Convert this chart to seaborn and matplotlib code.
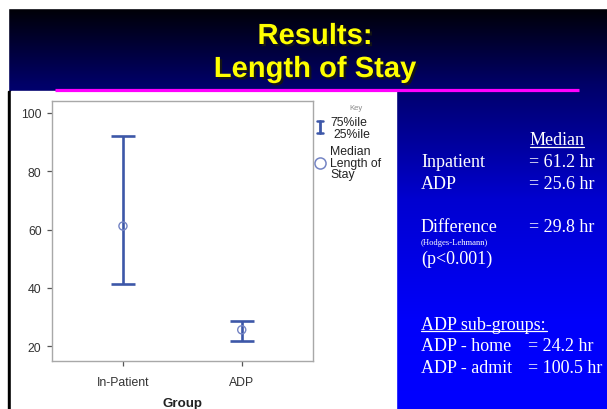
import numpy as np
import pandas as pd
import matplotlib
matplotlib.use("Agg")
import matplotlib.pyplot as plt
import matplotlib.patheffects as pe
import seaborn as sns
from matplotlib.patches import Rectangle

# ---- data ----
groups = ["In-Patient", "ADP"]
medians = [61.2, 25.6]
q25 = [41.4, 21.9]
q75 = [92.2, 28.6]
yticks = [20, 40, 60, 80, 100]

W, H = 607, 410
sns.set_style("white")
plt.rcParams["font.family"] = ["Liberation Sans", "DejaVu Sans"]

fig = plt.figure(figsize=(W / 100, H / 100), dpi=100)

# ---- slide background (pixel coordinates) ----
bg = fig.add_axes([0, 0, 1, 1], zorder=0)
bg.set_xlim(0, W)
bg.set_ylim(H, 0)
bg.axis("off")
rows = np.arange(H)
blue = np.interp(rows, [9, 85, 200, 320, 410], [0x06, 0x68, 0xd0, 0xfa, 0xff]) / 255.0
grad = np.zeros((H, 1, 3))
grad[:, 0, 2] = blue
bg.imshow(grad, extent=(0, W, H, 0), aspect="auto", interpolation="bilinear", zorder=0)
bg.add_patch(Rectangle((0, 0), W, 9, color="white", zorder=1))
bg.add_patch(Rectangle((0, 0), 8, H, color="white", zorder=1))
bg.add_patch(Rectangle((8, 92), 2.5, H - 92, color="black", zorder=1))
bg.add_patch(Rectangle((10.5, 92), 385, H - 92, color="white", zorder=1))
bg.plot([55, 579], [90.5, 90.5], color="#ff00ff", lw=2.3, solid_capstyle="butt", zorder=2)

# title with drop shadow
shadow = [pe.SimplePatchShadow(offset=(1.6, -1.6), shadow_rgbFace="#151515", alpha=1.0),
          pe.Normal()]
for txt, yb in [("Results:", 45), ("Length of Stay", 78)]:
    bg.text(315, yb, txt, color="#ffff00", fontsize=21, fontweight="bold",
            ha="center", va="baseline", zorder=4, path_effects=shadow)

# right-hand text block
serif = ["Liberation Serif", "DejaVu Serif"]
tk = dict(color="white", fontsize=13, family=serif, va="baseline", zorder=4)
bg.text(530, 145, "Median", **tk)
bg.plot([530, 584], [147.5, 147.5], color="white", lw=0.9, zorder=4)
bg.text(421, 167, "Inpatient", **tk)
bg.text(529, 167, "= 61.2 hr", **tk)
bg.text(421, 189, "ADP", **tk)
bg.text(529, 189, "= 25.6 hr", **tk)
bg.text(421, 232, "Difference", **tk)
bg.text(529, 232, "= 29.8 hr", **tk)
bg.text(421, 245, "(Hodges-Lehmann)", color="white", fontsize=6.2, family=serif,
        va="baseline", zorder=4)
bg.text(421, 264, "(p<0.001)", **tk)
bg.text(421, 330, "ADP sub-groups:", **tk)
bg.plot([421, 547], [332, 332], color="white", lw=0.9, zorder=4)
bg.text(421, 351, "ADP - home", **tk)
bg.text(528, 351, "= 24.2 hr", **tk)
bg.text(421, 373, "ADP - admit", **tk)
bg.text(528, 373, "= 100.5 hr", **tk)

# key / legend
bar_col = "#3d57a8"
circ_col = "#7484c4"
bg.text(356, 108, "Key", color="#8a8a8a", fontsize=5.5, ha="center", va="center", zorder=4)
bg.plot([319.5, 319.5], [122, 134], color=bar_col, lw=2.0, zorder=4)
bg.plot([316.5, 322.5], [122, 122], color=bar_col, lw=1.8, zorder=4)
bg.plot([316.5, 322.5], [134, 134], color=bar_col, lw=1.8, zorder=4)
lk = dict(color="#222222", fontsize=8.8, va="center", zorder=4)
bg.text(330, 123.5, "75%ile", **lk)
bg.text(333, 135, "25%ile", **lk)
bg.plot([319.5], [163.5], marker="o", ms=8, mfc="none", mec=circ_col, mew=1.1, zorder=4)
bg.text(330, 152.5, "Median", **lk)
bg.text(330, 164, "Length of", **lk)
bg.text(330, 175.5, "Stay", **lk)

# ---- chart ----
df = pd.DataFrame({"Group": groups, "Median": medians, "Q25": q25, "Q75": q75})
left, right, top, bottom = 51.7, 313, 101.7, 361.7
ax = fig.add_axes([left / W, 1 - bottom / H, (right - left) / W, (bottom - top) / H], zorder=2)
ax.set_facecolor("white")

err_lo = df["Median"] - df["Q25"]
err_hi = df["Q75"] - df["Median"]
ax.errorbar(df["Group"], df["Median"], yerr=[err_lo, err_hi], fmt="none",
            ecolor=bar_col, elinewidth=1.9, capsize=8.8, capthick=1.9, zorder=2)
sns.scatterplot(data=df, x="Group", y="Median", ax=ax, marker="o", s=34,
                facecolor="none", edgecolor=circ_col, linewidth=1.0, zorder=3)

ax.set_xlim(-0.6, 1.6)
ax.set_ylim(15.0, 104.2)
ax.set_yticks(yticks)
ax.set_yticklabels([str(v) for v in yticks])
ax.set_xlabel("Group", fontsize=9.6, fontweight="bold", color="#222222", labelpad=6)
ax.set_ylabel("")
for s in ax.spines.values():
    s.set_color("#a8a8a8")
    s.set_linewidth(1.0)
ax.tick_params(axis="both", which="both", direction="out", length=3.8, width=0.9,
               color="#555555", labelcolor="#333333", labelsize=8.8)
ax.tick_params(axis="y", left=True, pad=3.5)
ax.tick_params(axis="x", bottom=True, pad=7.5)

fig.savefig("out.png", dpi=100)
